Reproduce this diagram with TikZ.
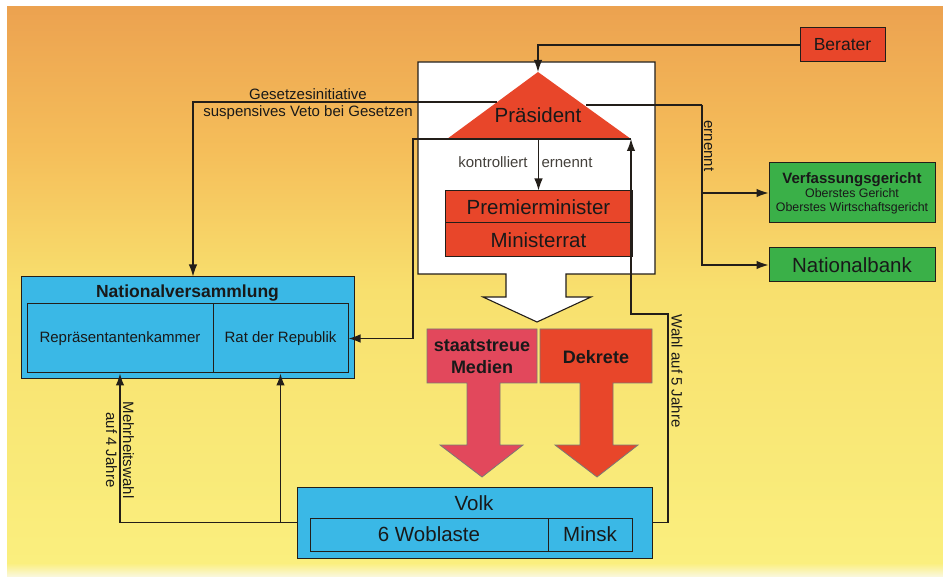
\documentclass[tikz,border=0pt]{standalone}
\usepackage{fontspec}
\setmainfont{Liberation Sans}
\usetikzlibrary{arrows.meta}
\definecolor{bgA}{RGB}{236,162,80}
\definecolor{bgB}{RGB}{245,190,90}
\definecolor{bgC}{RGB}{248,224,110}
\definecolor{bgD}{RGB}{250,239,126}
\definecolor{bgE}{RGB}{250,248,225}
\definecolor{redF}{RGB}{232,70,42}
\definecolor{pinkF}{RGB}{226,72,92}
\definecolor{blueF}{RGB}{58,184,230}
\definecolor{greenF}{RGB}{58,176,72}
\definecolor{lineC}{RGB}{35,30,25}
\definecolor{txtC}{RGB}{25,25,25}
\begin{document}
\begin{tikzpicture}[x=1pt,y=-1pt,
 conn/.style={draw=lineC, line width=1.2pt},
 arr/.style={conn, -{Latex[length=12pt,width=8.5pt]}},
 fbox/.style={draw=lineC, line width=1pt, inner sep=0pt, text=txtC},
 rbox/.style={fbox, fill=redF},
 bbox/.style={fbox, fill=blueF},
 gbox/.style={fbox, fill=greenF},
 big/.style={font=\fontsize{20.5}{24}\selectfont},
 lbl/.style={font=\fontsize{15}{18}\selectfont, text=txtC, inner sep=0pt},
 bigarrow/.style={draw=lineC!60, line width=0.8pt}]
\useasboundingbox (0,0) rectangle (943,577);
% background
\fill[white] (0,0) rectangle (943,577);
\shade[top color=bgA, bottom color=bgB] (7,7) rectangle (943,150.5);
\shade[top color=bgB, bottom color=bgC] (7,150) rectangle (943,290.5);
\shade[top color=bgC, bottom color=bgD] (7,290) rectangle (943,563.5);
\shade[top color=bgD, bottom color=bgE] (7,563) rectangle (943,577);
% white container with arrow
\draw[fill=white, draw=lineC, line width=1.1pt]
  (418,62) -- (655,62) -- (655,274) -- (566,274) -- (566,297) -- (591,297)
  -- (537,322) -- (483,297) -- (506,297) -- (506,274) -- (418,274) -- cycle;
% president triangle
\coordinate (papex) at (538,72);
\coordinate (pl) at (447,139);
\coordinate (pr) at (631,139);
\coordinate (pbase) at (538.5,139);
\coordinate (pgl) at (497,102);
\coordinate (pgr) at (586,105);
\fill[redF] (papex) -- (pl) -- (pr) -- cycle;
\node[big, text=txtC, anchor=base] (praes) at (538,123) {Präsident};
% ministers
\node[rbox, big, minimum width=187pt, minimum height=32pt] (pm) at (538.5,207) {Premierminister};
\node[rbox, big, minimum width=187pt, minimum height=34pt] (mr) at (538.5,240) {Ministerrat};
% Berater
\node[rbox, font=\fontsize{17.5}{20}\selectfont, minimum width=85pt, minimum height=34pt] (ber) at (842.5,45) {Berater};
% green boxes
\node[gbox, align=center, font=\fontsize{12.4}{14}\selectfont, minimum width=166pt, minimum height=60pt] (vg) at (852,193)
  {{\fontsize{15}{14}\selectfont\bfseries Verfassungsgericht}\\Oberstes Gericht\\Oberstes Wirtschaftsgericht};
\node[gbox, big, minimum width=166pt, minimum height=34pt] (nb) at (852,265) {Nationalbank};
% Nationalversammlung
\node[bbox, minimum width=333pt, minimum height=102pt] (nvo) at (187.5,328) {};
\node[font=\fontsize{17.5}{20}\selectfont\bfseries, text=txtC, inner sep=0pt] (nvt) at (187.5,293) {Nationalversammlung};
\node[bbox, font=\fontsize{15}{18}\selectfont, minimum width=186pt, minimum height=69pt] (nvl) at (120,338.5) {Repräsentantenkammer};
\node[bbox, font=\fontsize{15}{18}\selectfont, minimum width=135pt, minimum height=69pt] (nvr) at (280.5,338.5) {Rat der Republik};
% Volk
\node[bbox, minimum width=355pt, minimum height=71pt] (volk) at (474.5,522.5) {};
\node[big, text=txtC, inner sep=0pt] (volkt) at (474,503) {Volk};
\node[bbox, big, minimum width=238pt, minimum height=33pt] (wob) at (429,534.5) {6 Woblaste};
\node[bbox, big, minimum width=84pt, minimum height=33pt] (minsk) at (590,534.5) {Minsk};
% big arrows
\draw[bigarrow, fill=pinkF] (427,329) -- (537,329) -- (537,383) -- (500,383) -- (500,445) -- (523,445)
  -- (482,477) -- (440,445) -- (467,445) -- (467,383) -- (427,383) -- cycle;
\node[align=center, font=\fontsize{18}{22}\selectfont\bfseries, text=txtC] (med) at (482,357) {staatstreue\\Medien};
\draw[bigarrow, fill=redF] (540,329) -- (652,329) -- (652,383) -- (613,383) -- (613,445) -- (638,445)
  -- (597,477) -- (555,445) -- (580,445) -- (580,383) -- (540,383) -- cycle;
\node[font=\fontsize{18}{22}\selectfont\bfseries, text=txtC] (dek) at (596,357) {Dekrete};
% connectors
\draw[arr] (ber.west) -| (papex);
\draw[arr] (pgl) -| ([xshift=5.5pt]nvo.north);
\coordinate (k1) at (413,139);
\draw[arr] (pr) -- (pl) -- (k1) |- (nvr.east);
\draw[arr] (pbase) -- (pm.north);
\coordinate (k2) at (702,105);
\draw[conn] (pgr) -- (k2);
\draw[arr] (k2) |- (vg.west);
\draw[arr] (k2) |- (nb.west);
\coordinate (k3) at (668,314);
\draw[arr] (volk.east) -| (k3) -| (pr);
\draw[arr] (volk.west) -| (nvl.south);
\draw[arr] (volk.west -| nvr.south) -- (nvr.south);
% labels
\node[lbl, anchor=base] (l1) at (308,100) {Gesetzesinitiative};
\node[lbl, anchor=base] (l2) at (308,117) {suspensives Veto bei Gesetzen};
\node[lbl, anchor=base, text=lineC!85] (l3) at (493,168) {kontrolliert};
\node[lbl, anchor=base, text=lineC!85] (l4) at (567,168) {ernennt};
\node[lbl, rotate=-90] (l5) at (709,146) {ernennt};
\node[lbl, rotate=-90] (l6) at (677,371) {Wahl auf 5 Jahre};
\node[lbl, rotate=-90, align=center, font=\fontsize{15}{17}\selectfont] (l7) at (120,450) {Mehrheitswahl\\auf 4 Jahre};
\end{tikzpicture}
\end{document}
